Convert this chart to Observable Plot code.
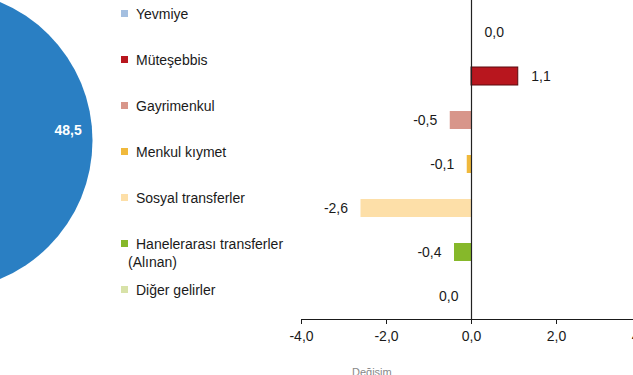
<!DOCTYPE html>
<html>
<head>
<meta charset="utf-8">
<script src="https://cdn.jsdelivr.net/npm/d3@7"></script>
<script src="https://cdn.jsdelivr.net/npm/@observablehq/plot@0.6"></script>
<style>
  html, body { margin: 0; padding: 0; background: #fff; width: 633px; height: 375px; overflow: hidden; position: relative; font-family: "Liberation Sans", Arial, sans-serif; }
  #pie, #bars { position: absolute; left: 0; top: 0; }
  #legend { position: absolute; left: 121px; top: 5px; }
  .item { position: relative; height: 46px; font-size: 14px; line-height: 18px; color: #1a1a1a; }
  .sw { position: absolute; left: 0; top: 5px; width: 7px; height: 7px; }
  .lt { padding-left: 7px; text-indent: 8px; width: 180px; }
  #caption { position: absolute; left: 352px; top: 366px; font-size: 11px; color: #888; }
</style>
</head>
<body>
<div id="pie"></div>
<div id="legend"></div>
<div id="bars"></div>
<div id="caption">Değişim</div>
<script>
// Data
const legendLabels = ["Yevmiye", "Müteşebbis", "Gayrimenkul", "Menkul kıymet", "Sosyal transferler", "Hanelerarası transferler\n(Alınan)", "Diğer gelirler"];
const values = [0.0, 1.1, -0.5, -0.1, -2.6, -0.4, -0];
const colors = ["#a4bfe0", "#b8161e", "#d8968a", "#f0b93c", "#fddfa8", "#86b82a", "#d8e2a8"];
const strokes = ["none", "#5a0a0e", "none", "none", "none", "none", "none"];
const xTicks = [-4, -2, 0, 2, 4];
const pieValues = [48.5];
const pieColors = ["#2a7fc3"];

const fmt = v => v.toFixed(1).replace(".", ",").replace("−", "-");
const isNeg = v => v < 0 || Object.is(v, -0);

const rows = values.map((v, i) => ({cat: legendLabels[i], value: v, color: colors[i], stroke: strokes[i], neg: isNeg(v)}));

// Pie (only the visible slice region)
const pieRows = pieValues.map((v, i) => ({x: 0, y: 0, v, color: pieColors[i], lx: 0.84 * Math.cos(Math.PI / 40), ly: 0.84 * Math.sin(Math.PI / 40)}));
const pie = Plot.plot({
  width: 300, height: 375,
  margin: 0,
  x: {domain: [-1, 1], range: [-208, 92], axis: null},
  y: {domain: [-1, 1], range: [290, -10], axis: null},
  style: {background: "transparent", fontFamily: "Liberation Sans, Arial, sans-serif"},
  marks: [
    Plot.dot(pieRows, {x: "x", y: "y", r: 150, fill: d => d.color, stroke: "none"}),
    Plot.text(pieRows, {x: "lx", y: "ly", text: d => fmt(d.v), fill: "white", fontWeight: "bold", fontSize: 14})
  ]
});
document.getElementById("pie").appendChild(pie);

// Legend
const lg = document.getElementById("legend");
rows.forEach(r => {
  const it = document.createElement("div");
  it.className = "item";
  const sw = document.createElement("div");
  sw.className = "sw";
  sw.style.background = r.color;
  const t = document.createElement("div");
  t.className = "lt";
  t.innerHTML = r.cat.replace("\n", "<br>");
  it.appendChild(sw); it.appendChild(t);
  lg.appendChild(it);
});

// Bars
const bars = Plot.plot({
  width: 633, height: 375,
  marginTop: 0, marginBottom: 56, marginLeft: 301, marginRight: 0,
  style: {background: "transparent", fontFamily: "Liberation Sans, Arial, sans-serif", fontSize: "14px", color: "#1a1a1a"},
  x: {domain: [-4, 4], range: [301, 641], ticks: xTicks, tickFormat: fmt, tickSize: 5, tickPadding: 7, line: true, label: null},
  y: {domain: legendLabels, axis: null, insetTop: 8, paddingInner: 0.6, paddingOuter: 0.3},
  marks: [
    Plot.barX(rows, {x: "value", y: "cat", fill: d => d.color, stroke: d => d.stroke, strokeWidth: 1}),
    Plot.ruleX([0], {stroke: "#222", strokeWidth: 1.2}),
    Plot.text(rows.filter(d => !d.neg), {x: "value", y: "cat", text: d => fmt(d.value), dx: 13, textAnchor: "start", fill: "#1a1a1a", fontSize: 14}),
    Plot.text(rows.filter(d => d.neg), {x: "value", y: "cat", text: d => fmt(d.value), dx: -13, textAnchor: "end", fill: "#1a1a1a", fontSize: 14})
  ]
});
document.getElementById("bars").appendChild(bars);
</script>
</body>
</html>
